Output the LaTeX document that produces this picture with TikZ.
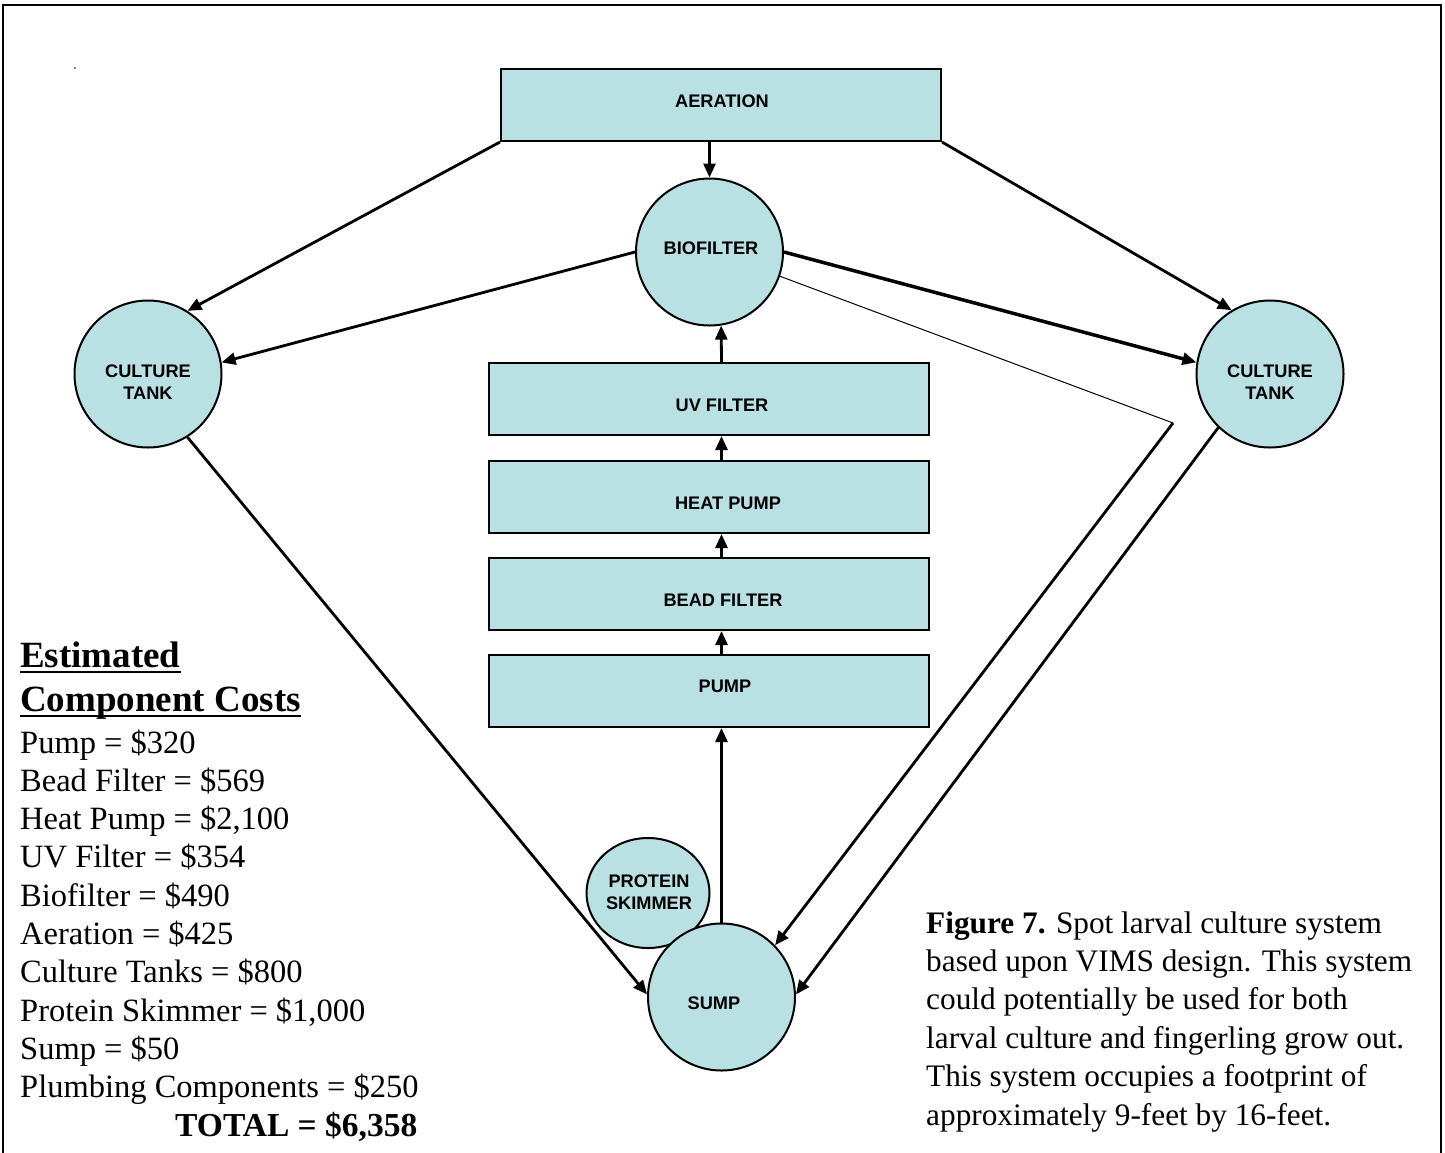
\documentclass[tikz,border=0pt]{standalone}
\usepackage{fontspec}
\setmainfont{Liberation Serif}
\newfontfamily\lblfont{Liberation Sans}
\usetikzlibrary{arrows.meta,shapes.geometric}
\definecolor{boxfill}{RGB}{185,224,227}
\begin{document}
\begin{tikzpicture}[x=1pt,y=-1pt,
  box/.style={draw=black,line width=2pt,fill=boxfill,minimum width=440pt,minimum height=72pt,inner sep=0pt},
  tank/.style={circle,draw=black,line width=2pt,fill=boxfill,inner sep=0pt,minimum size=147pt},
  lbl/.style={font=\lblfont\bfseries\fontsize{18.2}{22}\selectfont,align=center,inner sep=0pt},
  flow/.style={line width=2.8pt,-{Triangle[length=14pt,width=12pt]}},
  body/.style={font=\fontsize{32.5}{38}\selectfont,anchor=base west,inner sep=0pt},
  captxt/.style={font=\fontsize{31.3}{38}\selectfont,anchor=base west,inner sep=0pt},
  bodyb/.style={font=\bfseries\fontsize{33.5}{38}\selectfont,anchor=base west,inner sep=0pt},
  head/.style={font=\bfseries\fontsize{37}{44}\selectfont,anchor=base west,inner sep=0pt},
]
\useasboundingbox (0,0) rectangle (1445,1152);
% frame
\draw[line width=2.5pt] (3,1165) -- (3,5) -- (1441,5) -- (1441,1165);
\fill (75,68) circle (0.8);

% boxes
\node[box] (aer) at (721,105) {};
\node[lbl] (aerT) at (722,101) {AERATION};
\node[box] (uv) at (709,399) {};
\node[lbl] (uvT) at (722,405) {UV FILTER};
\node[box] (heat) at (709,497) {};
\node[lbl] (heatT) at (728,503) {HEAT PUMP};
\node[box] (bead) at (709,594) {};
\node[lbl] (beadT) at (723,600) {BEAD FILTER};
\node[box] (pump) at (709,691) {};
\node[lbl] (pumpT) at (725,686) {PUMP};

% circles
\node[tank] (bio) at (709.5,252) {};
\node[lbl] (bioT) at (711,248) {BIOFILTER};
\node[tank] (ctl) at (148,374) {};
\node[lbl] (ctlT) at (148,382) {CULTURE\\TANK};
\node[tank] (ctr) at (1270,374) {};
\node[lbl] (ctrT) at (1270,382) {CULTURE\\TANK};
\node[ellipse,draw=black,line width=2pt,fill=boxfill,minimum width=123pt,minimum height=110pt,inner sep=0pt] (skim) at (648,893) {};
\node[lbl] (skimT) at (649,892) {PROTEIN\\SKIMMER};
\node[tank] (sump) at (721.5,997) {};
\node[lbl] (sumpT) at (714,1003) {SUMP};

% connectors
\draw[flow] (bio.north |- aer.south) -- (bio.north);
\draw[flow] (aer.south west) -- (ctl.58);
\draw[flow] (aer.south east) -- (ctr.121);
\draw[flow] (bio.180) -- (ctl.9);
\draw[flow,line width=3.5pt] (bio.0) -- (ctr.171);
\coordinate (bend) at (1173,423);
\draw[line width=1pt] (bio.-19) -- (bend);
\draw[flow] (bend) -- (sump.44);
\draw[flow] (ctr.226) -- (sump.2);
\draw[flow] (ctl.-58) -- (sump.178);
\draw[flow] (sump.north) -- (sump.north |- pump.south);
\draw[flow] (pump.north -| sump.north) -- (sump.north |- bead.south);
\draw[flow] (bead.north -| sump.north) -- (sump.north |- heat.south);
\draw[flow] (heat.north -| sump.north) -- (sump.north |- uv.south);
\draw[flow] (uv.north -| sump.north) -- (bio.-81);

% cost list
\node[head] (h1) at (20,667) {Estimated};
\node[head] (h2) at (20,711) {Component Costs};
\draw[line width=1.8pt] ([yshift=-5pt]h1.base west) -- ([yshift=-5pt]h1.base east);
\draw[line width=1.8pt] ([yshift=-5pt]h2.base west) -- ([yshift=-5pt]h2.base east);
\node[body] (c1) at (20,753) {Pump = \$320};
\node[body] (c2) at (20,791.3) {Bead Filter = \$569};
\node[body] (c3) at (20,829.6) {Heat Pump = \$2,100};
\node[body] (c4) at (20,867.9) {UV Filter = \$354};
\node[body] (c5) at (20,906.2) {Biofilter = \$490};
\node[body] (c6) at (20,944.5) {Aeration = \$425};
\node[body] (c7) at (20,982.8) {Culture Tanks = \$800};
\node[body] (c8) at (20,1021.1) {Protein Skimmer = \$1,000};
\node[body] (c9) at (20,1059.4) {Sump = \$50};
\node[body] (c10) at (20,1097.7) {Plumbing Components = \$250};
\node[bodyb] (tot) at (175,1136) {TOTAL = \$6,358};

% caption
\node[captxt] (f1) at (926,933) {\textbf{Figure 7.} Spot larval culture system};
\node[captxt] (f2) at (926,971.4) {based upon VIMS design. This system};
\node[captxt] (f3) at (926,1009.8) {could potentially be used for both};
\node[captxt] (f4) at (926,1048.2) {larval culture and fingerling grow out.};
\node[captxt] (f5) at (926,1086.6) {This system occupies a footprint of};
\node[captxt] (f6) at (926,1125) {approximately 9-feet by 16-feet.};
\end{tikzpicture}
\end{document}
